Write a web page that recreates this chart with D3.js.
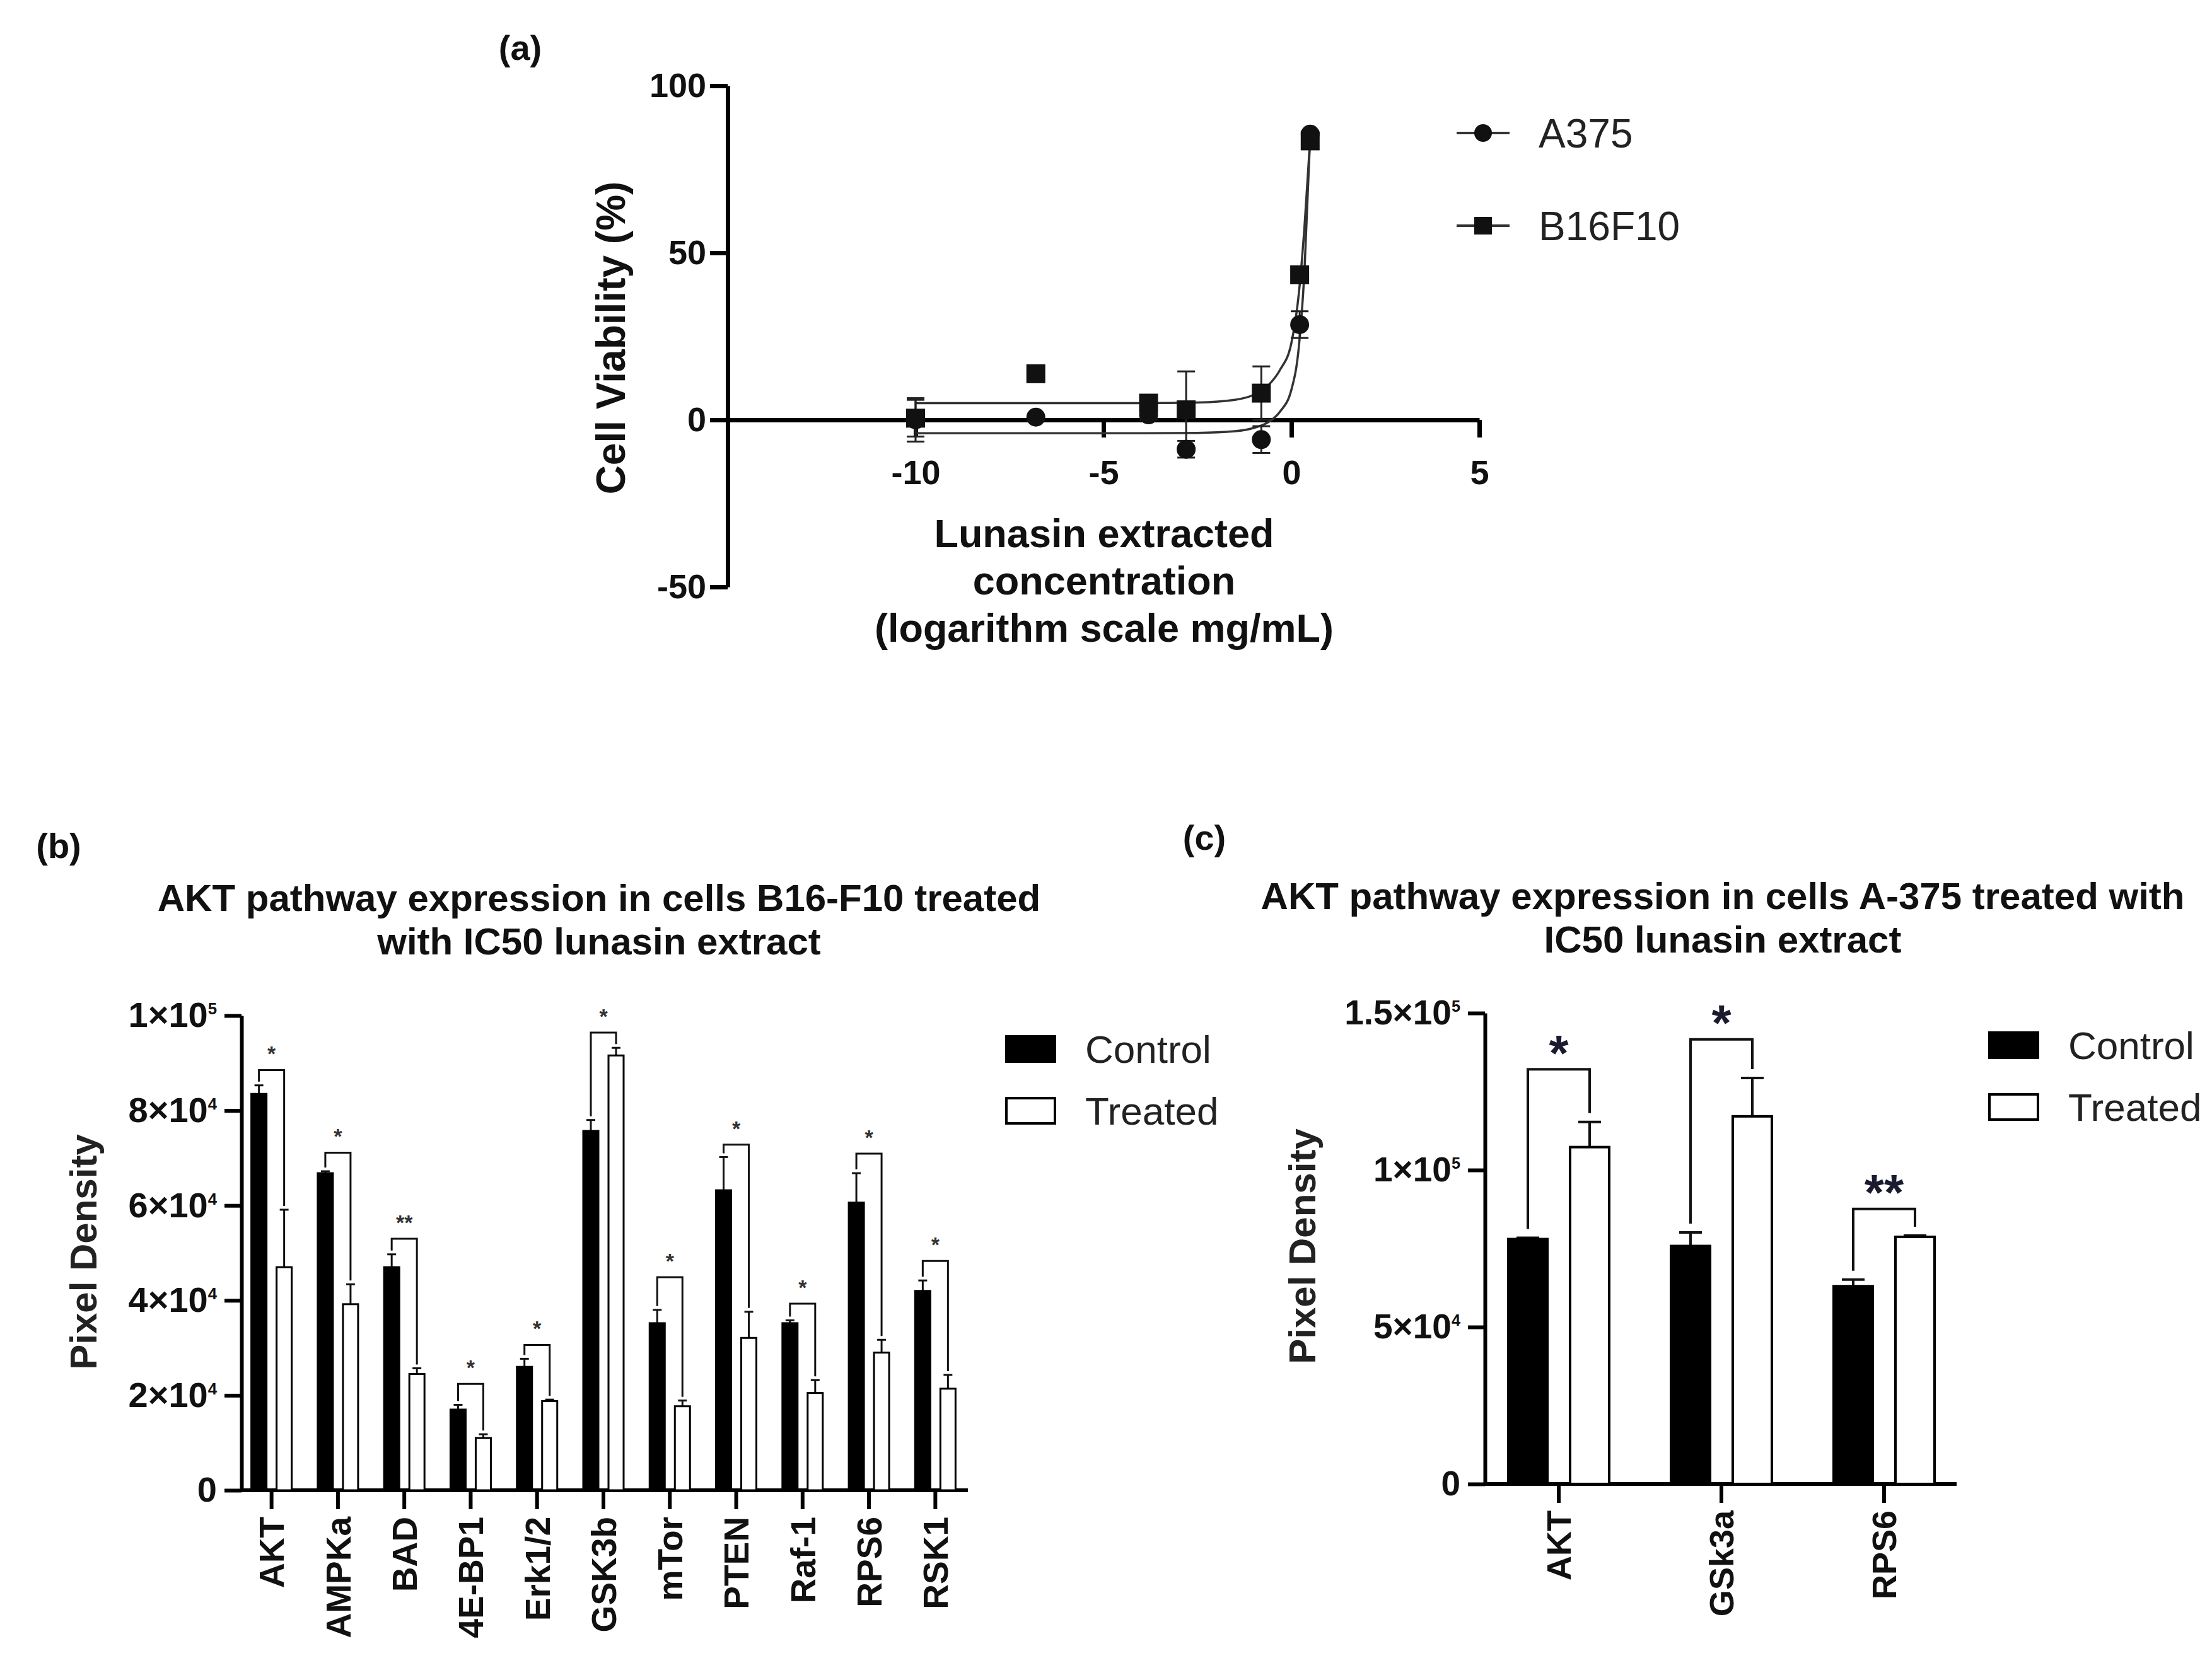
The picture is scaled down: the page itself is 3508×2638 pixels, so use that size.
<!DOCTYPE html>
<html>
<head>
<meta charset="utf-8">
<script src="https://cdn.jsdelivr.net/npm/d3@7"></script>
<style>
  body { margin: 0; background: #fff; }
  text { font-family: "Liberation Sans", Arial, sans-serif; }
</style>
</head>
<body>
<script>
"use strict";

// ---- panel (a): dose response ----
const aSeries = ["A375", "B16F10"];
const aDose = [-10, -6.8, -3.8, -2.8, -0.8, 0.22, 0.5];
const a375Mean = [0, 0.8, 1.5, -8.8, -5.9, 28.5, 85.5];
const a375Err = [6.5, 0, 1.5, 2.5, 4, 4, 1];
const b16Mean = [0.5, 13.8, 5, 3, 8, 43.4, 83.5];
const b16Err = [5.5, 0, 2, 11.5, 8, 1.5, 1];
// fitted curves
const curveDose = [-10, -4, -2.5, -1.5, -1, -0.6, -0.3, 0, 0.2, 0.35, 0.5];
const a375Fit = [-4, -4, -3.9, -3.4, -2.4, -0.6, 2.5, 9, 22, 45, 85];
const b16Fit = [5, 5, 5.2, 6, 7.5, 10.5, 15, 23, 38, 58, 84];
const aYTicks = [-50, 0, 50, 100];
const aXTicks = [-10, -5, 0, 5];

// ---- panel (b): B16-F10 ----
const bTargets = ["AKT", "AMPKa", "BAD", "4E-BP1", "Erk1/2", "GSK3b", "mTor", "PTEN", "Raf-1", "RPS6", "RSK1"];
const bControl = [83500, 66800, 47000, 17000, 26000, 75700, 35200, 63200, 35200, 60600, 42000];
const bControlErr = [1800, 400, 2700, 1000, 1700, 2300, 2800, 7000, 600, 6200, 2200];
const bTreated = [47000, 39200, 24500, 11000, 18800, 91600, 17700, 32100, 20500, 29000, 21400];
const bTreatedErr = [12100, 4200, 1200, 800, 300, 1600, 1200, 5500, 2700, 2700, 2900];
const bBracket = [88500, 71100, 53000, 22400, 30600, 96400, 44900, 72800, 39300, 70900, 48300];
const bStars = ["*", "*", "**", "*", "*", "*", "*", "*", "*", "*", "*"];
const bYTicks = [0, 20000, 40000, 60000, 80000, 100000];

// ---- panel (c): A-375 ----
const cTargets = ["AKT", "GSk3a", "RPS6"];
const cControl = [78000, 75800, 63000];
const cControlErr = [400, 4300, 2100];
const cTreated = [107300, 117100, 78700];
const cTreatedErr = [8000, 12200, 400];
const cBracket = [132100, 141600, 87600];
const cStars = ["*", "*", "**"];
const cYTicks = [0, 50000, 100000, 150000];

const groups = ["Control", "Treated"];

const W = 3508, H = 2638;
const svg = d3.select("body").append("svg")
  .attr("width", W)
  .attr("height", H);
svg.append("rect").attr("width", W).attr("height", H).attr("fill", "#fff");

function styleAxis(g, sw) {
  g.selectAll("path, line").attr("stroke", "#000").attr("stroke-width", sw);
  g.selectAll("text").attr("fill", "#111").attr("font-weight", "bold");
}

function panelLabel(txt, x, y) {
  svg.append("text").attr("x", x).attr("y", y)
    .attr("text-anchor", "middle").attr("dy", "0.35em")
    .attr("font-size", 56).attr("font-weight", "bold").attr("fill", "#111")
    .text(txt);
}

// ================= panel (a) =================
const ax = d3.scaleLinear().domain([-15, 5]).range([1154, 2346]);
const ay = d3.scaleLinear().domain([-50, 100]).range([931, 136]);
const pa = svg.append("g");

pa.append("g")
  .attr("transform", `translate(${ax(-15)},0)`)
  .call(d3.axisLeft(ay).tickValues(aYTicks).tickFormat(d => String(d))
    .tickSize(28).tickSizeOuter(0).tickPadding(6))
  .call(g => styleAxis(g, 7))
  .selectAll("text").attr("font-size", 54);

pa.append("g")
  .attr("transform", `translate(0,${ay(0)})`)
  .call(d3.axisBottom(ax).tickValues(aXTicks).tickFormat(d => String(d))
    .tickSize(28).tickSizeOuter(0).tickPadding(36))
  .call(g => styleAxis(g, 7))
  .selectAll("text").attr("font-size", 54);

const aLine = d3.line()
  .x((d, i) => ax(curveDose[i]))
  .y(d => ay(d))
  .curve(d3.curveMonotoneX);

[a375Fit, b16Fit].forEach(fit => {
  pa.append("path").attr("d", aLine(fit))
    .attr("fill", "none").attr("stroke", "#333").attr("stroke-width", 3.5);
});

function errBars(g, means, errs) {
  means.forEach((m, i) => {
    if (!errs[i]) return;
    const x = ax(aDose[i]);
    g.append("line").attr("x1", x).attr("x2", x)
      .attr("y1", ay(m - errs[i])).attr("y2", ay(m + errs[i]))
      .attr("stroke", "#222").attr("stroke-width", 3);
    [m - errs[i], m + errs[i]].forEach(v => {
      g.append("line").attr("x1", x - 14).attr("x2", x + 14)
        .attr("y1", ay(v)).attr("y2", ay(v))
        .attr("stroke", "#222").attr("stroke-width", 3);
    });
  });
}
errBars(pa, a375Mean, a375Err);
errBars(pa, b16Mean, b16Err);

pa.selectAll("circle.a375").data(a375Mean).join("circle")
  .attr("class", "a375")
  .attr("cx", (d, i) => ax(aDose[i])).attr("cy", d => ay(d))
  .attr("r", 15).attr("fill", "#111");

pa.selectAll("rect.b16").data(b16Mean).join("rect")
  .attr("class", "b16")
  .attr("x", (d, i) => ax(aDose[i]) - 15).attr("y", d => ay(d) - 15)
  .attr("width", 30).attr("height", 30).attr("fill", "#111");

// legend (a)
aSeries.forEach((s, i) => {
  const y = 211 + i * 147;
  pa.append("line").attr("x1", 2310).attr("x2", 2394).attr("y1", y).attr("y2", y)
    .attr("stroke", "#333").attr("stroke-width", 4);
  if (i === 0) {
    pa.append("circle").attr("cx", 2352).attr("cy", y).attr("r", 14).attr("fill", "#111");
  } else {
    pa.append("rect").attr("x", 2338).attr("y", y - 14).attr("width", 28).attr("height", 28).attr("fill", "#111");
  }
  pa.append("text").attr("x", 2440).attr("y", y).attr("dy", "0.36em")
    .attr("font-size", 64).attr("fill", "#222").text(s);
});

pa.append("text")
  .attr("transform", "translate(968,536) rotate(-90)")
  .attr("text-anchor", "middle").attr("dy", "0.36em")
  .attr("font-size", 64).attr("font-weight", "bold").attr("fill", "#111")
  .text("Cell Viability (%)");

["Lunasin extracted", "concentration", "(logarithm scale mg/mL)"].forEach((t, i) => {
  pa.append("text").attr("x", 1751).attr("y", 845 + i * 75).attr("dy", "0.36em")
    .attr("text-anchor", "middle")
    .attr("font-size", 63).attr("font-weight", "bold").attr("fill", "#111")
    .text(t);
});

panelLabel("(a)", 825, 75);

// ================= panels (b), (c) =================
function sciLabel(sel) {
  sel.each(function(d) {
    const t = d3.select(this).text(null);
    if (d === 0) { t.text("0"); return; }
    const e = Math.floor(Math.log10(d));
    const m = +(d / Math.pow(10, e)).toFixed(2);
    t.append("tspan").text(m + "×10");
    t.append("tspan").attr("font-size", "0.46em").attr("dy", "-0.78em").text(e);
  });
}

function barPanel(o) {
  const g = svg.append("g");
  const x = d3.scaleBand().domain(o.cats).range(o.xRange);
  const y = d3.scaleLinear().domain([0, o.yMax]).range([o.yBase, o.yTop]);
  const sub = d3.scaleBand().domain(groups).range([-o.half, o.half]).paddingInner(o.innerPad);
  const cx = c => x(c) + x.bandwidth() / 2;

  // y axis
  g.append("g")
    .attr("transform", `translate(${o.axisX},0)`)
    .call(d3.axisLeft(y).tickValues(o.ticks).tickSize(27).tickSizeOuter(0).tickPadding(12))
    .call(a => styleAxis(a, 6))
    .selectAll("text").attr("font-size", o.tickFont).call(sciLabel);

  // x axis
  const xa = g.append("g")
    .attr("transform", `translate(0,${o.yBase})`)
    .call(d3.axisBottom(x).tickSize(30).tickSizeOuter(0));
  styleAxis(xa, 6);
  xa.select(".domain").remove();
  xa.append("line").attr("x1", o.axisX).attr("x2", o.axisEnd)
    .attr("stroke", "#000").attr("stroke-width", 6);
  xa.selectAll(".tick text")
    .attr("transform", "rotate(-90)")
    .attr("text-anchor", "end")
    .attr("x", -42).attr("y", 0).attr("dy", "0.36em")
    .attr("font-size", o.catFont);

  const rows = o.cats.map((c, i) => ({
    cat: c,
    vals: [
      { grp: "Control", v: o.ctrl[i], e: o.ctrlErr[i] },
      { grp: "Treated", v: o.trt[i], e: o.trtErr[i] }
    ],
    br: o.bracket[i],
    star: o.stars[i]
  }));

  rows.forEach(r => {
    r.vals.forEach(b => {
      const bx = cx(r.cat) + sub(b.grp);
      const mid = bx + sub.bandwidth() / 2;
      // error bar (upper only)
      g.append("line").attr("x1", mid).attr("x2", mid)
        .attr("y1", y(b.v)).attr("y2", y(b.v + b.e))
        .attr("stroke", "#111").attr("stroke-width", o.errW);
      g.append("line").attr("x1", mid - o.capW / 2).attr("x2", mid + o.capW / 2)
        .attr("y1", y(b.v + b.e)).attr("y2", y(b.v + b.e))
        .attr("stroke", "#111").attr("stroke-width", o.errW);
      g.append("rect")
        .attr("x", bx).attr("y", y(b.v))
        .attr("width", sub.bandwidth()).attr("height", y(0) - y(b.v))
        .attr("fill", b.grp === "Control" ? "#000" : "#fff")
        .attr("stroke", "#000").attr("stroke-width", o.barStroke);
    });
    // significance bracket
    const [c0, c1] = r.vals;
    const m0 = cx(r.cat) + sub("Control") + sub.bandwidth() / 2;
    const m1 = cx(r.cat) + sub("Treated") + sub.bandwidth() / 2;
    const yb = y(r.br);
    const path = d3.path();
    path.moveTo(m0, y(c0.v + c0.e) - o.gap);
    path.lineTo(m0, yb);
    path.lineTo(m1, yb);
    path.lineTo(m1, y(c1.v + c1.e) - o.gap);
    g.append("path").attr("d", path.toString())
      .attr("fill", "none").attr("stroke", "#111").attr("stroke-width", o.brW);
    g.append("text")
      .attr("x", (m0 + m1) / 2)
      .attr("y", yb - o.starOff + 0.58 * o.starFont)
      .attr("text-anchor", "middle")
      .attr("font-size", o.starFont).attr("font-weight", "bold")
      .attr("fill", o.starColor)
      .text(r.star);
  });

  // title
  o.title.forEach((t, i) => {
    g.append("text").attr("x", o.titleX).attr("y", o.titleY + i * 69).attr("dy", "0.36em")
      .attr("text-anchor", "middle")
      .attr("font-size", 60).attr("font-weight", "bold").attr("fill", "#111")
      .text(t);
  });

  // y label
  g.append("text")
    .attr("transform", `translate(${o.ylabX},${o.ylabY}) rotate(-90)`)
    .attr("text-anchor", "middle").attr("dy", "0.36em")
    .attr("font-size", 60).attr("font-weight", "bold").attr("fill", "#222")
    .text("Pixel Density");

  // legend
  groups.forEach((grp, i) => {
    const ly = o.legY + i * 98;
    g.append("rect").attr("x", o.legX).attr("y", ly - 20)
      .attr("width", 77).attr("height", 40)
      .attr("fill", grp === "Control" ? "#000" : "#fff")
      .attr("stroke", "#000").attr("stroke-width", 4);
    g.append("text").attr("x", o.legX + 125).attr("y", ly).attr("dy", "0.36em")
      .attr("font-size", 62).attr("fill", "#222").text(grp);
  });
}

barPanel({
  cats: bTargets, ctrl: bControl, ctrlErr: bControlErr, trt: bTreated, trtErr: bTreatedErr,
  bracket: bBracket, stars: bStars, ticks: bYTicks, yMax: 100000,
  xRange: [378, 1536], axisX: 383, axisEnd: 1535, yBase: 2364, yTop: 1611,
  half: 32, innerPad: 0.4, capW: 14, errW: 3, barStroke: 3, brW: 3, gap: 6,
  starFont: 34, starOff: 34, starColor: "#333", tickFont: 56, catFont: 55,
  title: ["AKT pathway expression in cells B16-F10 treated", "with IC50 lunasin extract"],
  titleX: 950, titleY: 1423, ylabX: 131, ylabY: 1986, legX: 1596, legY: 1664
});

barPanel({
  cats: cTargets, ctrl: cControl, ctrlErr: cControlErr, trt: cTreated, trtErr: cTreatedErr,
  bracket: cBracket, stars: cStars, ticks: cYTicks, yMax: 150000,
  xRange: [2343, 3117], axisX: 2355, axisEnd: 3103, yBase: 2354, yTop: 1607,
  half: 80, innerPad: 0.367, capW: 36, errW: 4, barStroke: 4, brW: 4, gap: 14,
  starFont: 80, starOff: 45, starColor: "#1b1b30", tickFont: 55, catFont: 54,
  title: ["AKT pathway expression in cells A-375 treated with", "IC50 lunasin extract"],
  titleX: 2732, titleY: 1420, ylabX: 2064, ylabY: 1977, legX: 3155, legY: 1658
});

panelLabel("(b)", 93, 1341);
panelLabel("(c)", 1910, 1328);
</script>
</body>
</html>
